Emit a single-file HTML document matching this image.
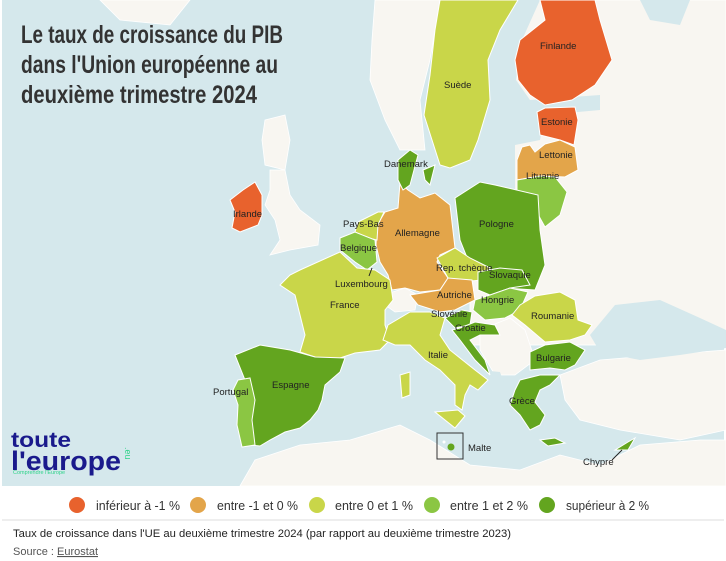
<!DOCTYPE html>
<html><head><meta charset="utf-8"><style>
body{margin:0;width:726px;height:561px;background:#fff;font-family:"Liberation Sans",sans-serif;overflow:hidden;position:relative}
svg{position:absolute;left:0;top:0}
.t{font-family:"Liberation Sans Narrow","Liberation Sans",sans-serif;font-size:9.5px;fill:#222}
</style></head><body>
<svg width="726" height="561" viewBox="0 0 726 561">
<rect x="2" y="0" width="722" height="486" fill="#d5e8ec"/>
<g fill="#f8f6f1" stroke="#fff" stroke-width="0.8">
<path d="M100,0 L190,0 L170,25 L120,20 Z"/>
<path d="M375,0 L440,0 L430,60 L420,100 L425,150 L400,150 L385,120 L370,80 L372,40 Z"/>
<rect x="470" y="0" width="256" height="345"/>
<path d="M560,375 L600,360 L660,355 L726,350 L726,430 L680,440 L620,430 L580,420 L565,400 Z"/>
<path d="M480,330 L510,318 L525,330 L535,360 L515,375 L495,375 L480,350 Z"/>
<path d="M270,170 L285,170 L290,195 L300,210 L320,225 L318,245 L290,250 L270,255 L280,240 L275,220 L265,205 L270,190 Z"/>
<path d="M265,120 L285,115 L290,140 L285,170 L265,165 L262,140 Z"/>
<path d="M240,486 L255,460 L300,445 L350,440 L400,425 L430,440 L470,465 L520,470 L560,455 L600,465 L640,445 L700,440 L726,440 L726,486 Z"/>
<path d="M383,295 L405,288 L418,295 L415,310 L395,312 L385,305 Z"/>
</g>
<!-- Baltic -->
<path d="M500,0 L540,0 L522,40 L516,80 L530,100 L600,95 L600,110 L545,115 L540,140 L515,145 L515,200 L450,200 L460,150 L470,100 L490,40 Z" fill="#d5e8ec"/>
<path d="M640,0 L690,0 L680,25 L650,20 Z" fill="#d5e8ec"/>
<!-- black sea -->
<path d="M590,335 L615,305 L660,300 L700,318 L726,330 L726,348 L680,355 L640,360 L600,352 Z" fill="#d5e8ec"/>
<path d="M480,370 L500,372 L510,400 L500,420 L485,400 Z" fill="#d5e8ec"/>
<g stroke="#fff" stroke-width="1">
<path fill="#e8622d" d="M545,20 L540,0 L595,0 L600,20 L612,60 L595,85 L572,100 L545,105 L530,95 L518,80 L515,60 L520,40 Z"/>
<path fill="#c9d649" d="M440,0 L518,0 L500,30 L488,60 L490,100 L478,140 L470,160 L450,168 L440,165 L432,140 L424,115 L430,75 L435,30 Z"/>
<path fill="#e8622d" d="M537,112 L545,108 L575,107 L578,120 L574,145 L560,140 L540,135 Z"/>
<path fill="#e3a54a" d="M517,160 L522,147 L530,145 L535,152 L545,144 L560,140 L575,147 L578,170 L565,177 L540,176 L517,180 Z"/>
<path fill="#8bc643" d="M517,180 L540,176 L555,177 L567,192 L560,215 L545,227 L535,209 L517,202 Z"/>
<path fill="#63a51f" d="M455,198 L480,182 L495,185 L538,195 L540,230 L545,265 L535,290 L505,288 L495,275 L470,265 L460,240 Z"/>
<path fill="#e3a54a" d="M400,183 L408,190 L420,198 L435,193 L450,205 L455,248 L440,255 L437,262 L448,278 L440,290 L420,292 L405,288 L392,290 L388,275 L380,262 L376,245 L377,225 L385,212 L398,208 Z"/>
<path fill="#63a51f" d="M398,160 L410,150 L418,155 L410,185 L403,190 L398,180 Z"/>
<path fill="#63a51f" d="M423,170 L435,165 L430,185 L425,180 Z"/>
<path fill="#c9d649" d="M358,222 L378,212 L384,212 L378,225 L377,240 L368,238 L355,232 Z"/>
<path fill="#8bc643" d="M340,238 L355,232 L375,240 L377,262 L367,270 L355,262 L340,250 Z"/>
<path fill="#c9d649" d="M300,270 L340,252 L357,268 L375,270 L390,280 L393,300 L385,310 L385,325 L390,340 L380,350 L355,353 L340,358 L330,362 L300,352 L305,335 L300,315 L295,295 L280,285 L290,275 Z"/>
<path fill="#c9d649" d="M437,258 L455,248 L470,258 L490,268 L482,280 L460,282 L448,278 Z"/>
<path fill="#e3a54a" d="M410,295 L440,290 L448,278 L472,280 L475,300 L455,310 L440,312 L418,305 Z"/>
<path fill="#63a51f" d="M478,272 L500,268 L522,270 L530,285 L510,288 L490,295 L478,290 Z"/>
<path fill="#8bc643" d="M475,300 L490,295 L510,288 L528,292 L520,310 L505,318 L485,320 L473,310 Z"/>
<path fill="#63a51f" d="M445,318 L462,310 L472,312 L470,325 L455,328 Z"/>
<path fill="#63a51f" d="M460,328 L475,322 L495,325 L500,335 L480,335 L470,340 L485,360 L490,375 L475,360 L460,340 L452,330 Z"/>
<path fill="#c9d649" d="M520,305 L535,296 L560,292 L575,300 L578,320 L592,325 L585,335 L570,340 L545,342 L525,325 L512,315 Z"/>
<path fill="#63a51f" d="M530,352 L545,345 L570,342 L585,350 L575,365 L565,370 L550,368 L530,370 Z"/>
<path fill="#63a51f" d="M520,380 L540,375 L560,375 L550,385 L540,390 L535,402 L545,415 L540,425 L530,430 L520,415 L510,405 L515,390 Z"/>
<path fill="#63a51f" d="M540,440 L555,438 L565,443 L548,446 Z"/>
<path fill="#63a51f" d="M615,450 L628,442 L635,438 L628,450 Z"/>
<path fill="#c9d649" d="M388,325 L410,312 L430,312 L445,318 L440,335 L450,350 L475,370 L488,380 L478,390 L470,385 L465,395 L462,410 L455,405 L455,385 L440,370 L425,360 L410,345 L395,345 L383,340 Z"/>
<path fill="#c9d649" d="M435,412 L458,410 L465,416 L455,428 Z"/>
<path fill="#c9d649" d="M400,375 L410,372 L410,395 L402,398 Z"/>
<path fill="#63a51f" d="M235,355 L260,345 L290,350 L315,357 L345,358 L340,372 L325,385 L322,400 L318,410 L310,420 L300,428 L285,432 L270,440 L260,446 L250,445 L250,425 L252,400 L245,380 Z"/>
<path fill="#8bc643" d="M238,380 L250,378 L255,400 L252,420 L255,445 L242,447 L237,425 L238,405 L233,390 Z"/>
<path fill="#e8622d" d="M243,190 L255,182 L262,195 L262,215 L258,225 L240,232 L232,228 L235,212 L230,200 Z"/>
</g>
<rect x="437" y="433" width="26" height="26" fill="none" stroke="#333" stroke-width="1"/>
<circle cx="451" cy="447" r="3.5" fill="#63a51f"/>
<circle cx="444" cy="442" r="1.5" fill="#fff"/>
<line x1="372" y1="268" x2="369" y2="276" stroke="#222"/>
<line x1="612" y1="460" x2="622" y2="450" stroke="#222"/>
<g class="t">
<text x="540" y="49">Finlande</text>
<text x="444" y="88">Suède</text>
<text x="541" y="125">Estonie</text>
<text x="539" y="158">Lettonie</text>
<text x="526" y="179">Lituanie</text>
<text x="384" y="167">Danemark</text>
<text x="233" y="217">Irlande</text>
<text x="343" y="227">Pays-Bas</text>
<text x="479" y="227">Pologne</text>
<text x="395" y="236">Allemagne</text>
<text x="340" y="251">Belgique</text>
<text x="436" y="271">Rep. tchèque</text>
<text x="489" y="278">Slovaquie</text>
<text x="335" y="287">Luxembourg</text>
<text x="437" y="298">Autriche</text>
<text x="481" y="303">Hongrie</text>
<text x="330" y="308">France</text>
<text x="431" y="317">Slovénie</text>
<text x="531" y="319">Roumanie</text>
<text x="455" y="331">Croatie</text>
<text x="536" y="361">Bulgarie</text>
<text x="428" y="358">Italie</text>
<text x="272" y="388">Espagne</text>
<text x="213" y="395">Portugal</text>
<text x="509" y="404">Grèce</text>
<text x="468" y="451">Malte</text>
<text x="583" y="465">Chypre</text>
</g>
<g font-family="'Liberation Sans Narrow','Liberation Sans',sans-serif" font-weight="bold" font-size="25" fill="#333">
<text x="21" y="43" textLength="262" lengthAdjust="spacingAndGlyphs">Le taux de croissance du PIB</text>
<text x="21" y="73" textLength="257" lengthAdjust="spacingAndGlyphs">dans l'Union européenne au</text>
<text x="21" y="103" textLength="236" lengthAdjust="spacingAndGlyphs">deuxième trimestre 2024</text>
</g>
<g font-family="'Liberation Sans',sans-serif" font-weight="bold" fill="#1a1a8c">
<text x="11" y="447" font-size="21" textLength="60" lengthAdjust="spacingAndGlyphs">toute</text>
<text x="11" y="470" font-size="27" textLength="110" lengthAdjust="spacingAndGlyphs">l'europe</text>
</g>
<text x="13" y="474" font-family="'Liberation Sans',sans-serif" font-size="5.5" fill="#2fd38a">Comprendre l'Europe</text>
<text x="125" y="447" font-family="'Liberation Sans',sans-serif" font-size="9" fill="#2fd38a" transform="rotate(90 125 447)">.eu</text>
<g font-family="'Liberation Sans Narrow','Liberation Sans',sans-serif" font-size="13" fill="#333">
<circle cx="77" cy="505" r="8" fill="#e8622d"/><text x="96" y="510" textLength="84" lengthAdjust="spacingAndGlyphs">inférieur à -1 %</text>
<circle cx="198" cy="505" r="8" fill="#e3a54a"/><text x="217" y="510" textLength="81" lengthAdjust="spacingAndGlyphs">entre -1 et 0 %</text>
<circle cx="317" cy="505" r="8" fill="#c9d649"/><text x="335" y="510" textLength="78" lengthAdjust="spacingAndGlyphs">entre 0 et 1 %</text>
<circle cx="432" cy="505" r="8" fill="#8bc643"/><text x="450" y="510" textLength="78" lengthAdjust="spacingAndGlyphs">entre 1 et 2 %</text>
<circle cx="547" cy="505" r="8" fill="#63a51f"/><text x="566" y="510" textLength="83" lengthAdjust="spacingAndGlyphs">supérieur à 2 %</text>
</g>
<rect x="2" y="519" width="722" height="2" fill="#eee"/>
<g font-family="'Liberation Sans Narrow','Liberation Sans',sans-serif" font-size="11">
<text x="13" y="537" fill="#222" textLength="498" lengthAdjust="spacingAndGlyphs">Taux de croissance dans l'UE au deuxième trimestre 2024 (par rapport au deuxième trimestre 2023)</text>
<text x="13" y="555" fill="#555">Source : <tspan text-decoration="underline">Eurostat</tspan></text>
</g>
</svg>
</body></html>
